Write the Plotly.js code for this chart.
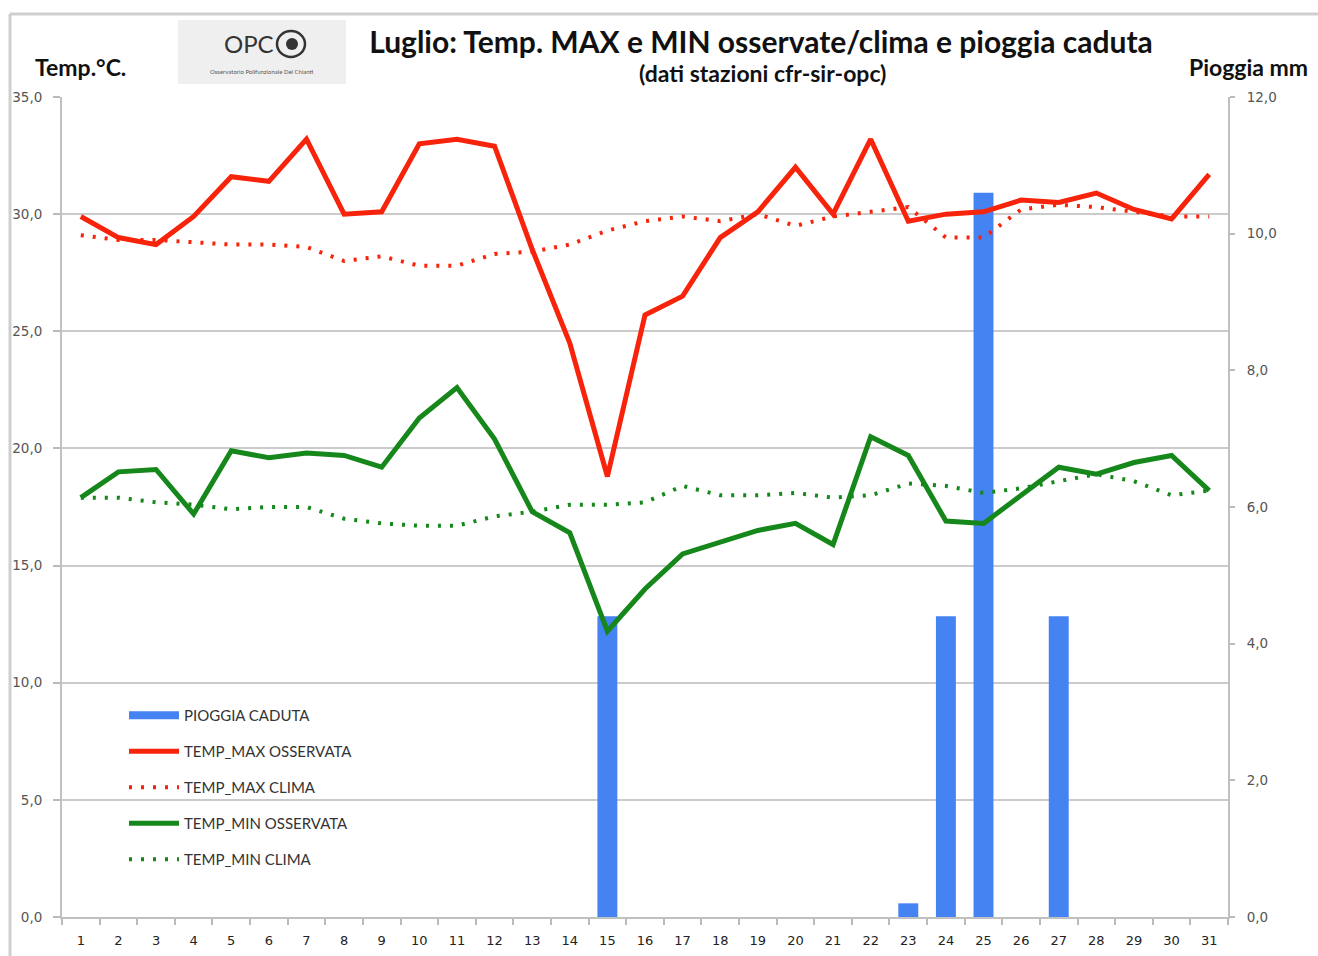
<!DOCTYPE html>
<html>
<head>
<meta charset="utf-8">
<script src="https://cdn.plot.ly/plotly-3.0.1.min.js"></script>
<style>html,body{margin:0;padding:0;background:#fff;}#chart{width:1318px;height:956px;}</style>
</head>
<body>
<div id="chart"></div>
<script>
const days = ['1','2','3','4','5','6','7','8','9','10','11','12','13','14','15','16','17','18','19','20','21','22','23','24','25','26','27','28','29','30','31'];
const rain = [0,0,0,0,0,0,0,0,0,0,0,0,0,0,4.4,0,0,0,0,0,0,0,0.2,4.4,10.6,0,4.4,0,0,0,0];
const tmaxObs = [29.9,29.0,28.7,29.9,31.6,31.4,33.2,30.0,30.1,33.0,33.2,32.9,28.5,24.5,18.8,25.7,26.5,29.0,30.1,32.0,30.0,33.2,29.7,30.0,30.1,30.6,30.5,30.9,30.2,29.8,31.7];
const tmaxClima = [29.1,28.9,28.9,28.8,28.7,28.7,28.6,28.0,28.2,27.8,27.8,28.3,28.4,28.7,29.3,29.7,29.9,29.7,30.0,29.5,29.9,30.1,30.3,29.0,29.0,30.2,30.4,30.3,30.1,29.9,29.9];
const tminObs = [17.9,19.0,19.1,17.2,19.9,19.6,19.8,19.7,19.2,21.3,22.6,20.4,17.3,16.4,12.2,14.0,15.5,16.0,16.5,16.8,15.9,20.5,19.7,16.9,16.8,18.0,19.2,18.9,19.4,19.7,18.2];
const tminClima = [17.9,17.9,17.7,17.6,17.4,17.5,17.5,17.0,16.8,16.7,16.7,17.1,17.3,17.6,17.6,17.7,18.4,18.0,18.0,18.1,17.9,18.0,18.5,18.4,18.1,18.3,18.6,18.9,18.6,18.0,18.2];

const names = ['PIOGGIA CADUTA','TEMP_MAX OSSERVATA','TEMP_MAX CLIMA','TEMP_MIN OSSERVATA','TEMP_MIN CLIMA'];
const RED = '#f7230a', GREEN = '#16871a', BLUE = '#4582f2';

// pixel -> paper helpers (layout only)
const L = 62, R = 1228, T = 97, B = 917;
const px = x => (x - L) / (R - L);
const py = y => (B - y) / (B - T);

const traces = [
  {type:'bar', x:days, y:rain, name:names[0], yaxis:'y', marker:{color:BLUE, line:{width:0}}, width:0.53, showlegend:false},
  // legend-only entry for the rain bars (wide rectangle symbol like the original)
  {type:'scatter', mode:'lines', x:[null], y:[null], name:names[0], yaxis:'y', line:{color:BLUE, width:8}, legendgroup:'a', hoverinfo:'skip'},
  {type:'scatter', mode:'lines', x:days, y:tmaxObs, name:names[1], yaxis:'y2', line:{color:RED, width:5}, legendgroup:'b'},
  {type:'scatter', mode:'lines', x:days, y:tmaxClima, name:names[2], yaxis:'y2', line:{color:RED, width:4, dash:'3px,9px'}, legendgroup:'c'},
  {type:'scatter', mode:'lines', x:days, y:tminObs, name:names[3], yaxis:'y2', line:{color:GREEN, width:5}, legendgroup:'d'},
  {type:'scatter', mode:'lines', x:days, y:tminClima, name:names[4], yaxis:'y2', line:{color:GREEN, width:4, dash:'3px,9px'}, legendgroup:'e'}
];

const axFont = {family:'DejaVu Sans, sans-serif', size:13.5, color:'#555'};
const layout = {
  width:1318, height:956,
  margin:{l:L, r:1318-R, t:T, b:956-B, pad:0},
  paper_bgcolor:'#fff', plot_bgcolor:'#fff',
  separators:',.',
  showlegend:true,
  font:{family:'Lato, sans-serif'},
  title:{text:'Luglio: Temp. MAX e MIN osservate/clima e pioggia caduta', font:{family:'Lato, sans-serif', size:30, color:'#111', weight:700}, x:761/1318, xanchor:'center', xref:'container', y:1-42/956, yanchor:'middle', yref:'container'},
  xaxis:{type:'category', range:[-0.5,30.5], tickson:'boundaries', ticks:'outside', ticklen:6, tickcolor:'#bbb', tickwidth:2, ticklabelstandoff:10,
         showline:true, linecolor:'#c0c0c0', linewidth:2, showgrid:false, tickfont:{family:'DejaVu Sans, sans-serif', size:13, color:'#222'}, fixedrange:true},
  yaxis:{range:[0,12], dtick:2, tick0:0, side:'right', tickformat:'.1f', showgrid:false, zeroline:false, showline:true, linecolor:'#c0c0c0', linewidth:2,
         ticks:'outside', ticklen:5, tickcolor:'#bbb', tickwidth:2, tickfont:axFont, ticklabelstandoff:9},
  yaxis2:{range:[0,35], dtick:5, tick0:0, side:'left', overlaying:'y', tickformat:'.1f', showgrid:true, gridcolor:'#cbcbcb', gridwidth:2, zeroline:false,
         showline:true, linecolor:'#c0c0c0', linewidth:2, ticks:'outside', ticklen:7, tickcolor:'#bbb', tickwidth:2, tickfont:axFont, ticklabelstandoff:8},
  legend:{x:px(124), y:py(699), xanchor:'left', yanchor:'top', bgcolor:'rgba(0,0,0,0)', font:{family:'Lato, sans-serif', size:15, color:'#333'}, tracegroupgap:13.5, traceorder:'grouped', itemwidth:50},
  shapes:[
    {type:'line', xref:'paper', yref:'paper', x0:px(10), x1:px(1318), y0:py(14), y1:py(14), line:{color:'#cfcfcf', width:3}},
    {type:'line', xref:'paper', yref:'paper', x0:px(10), x1:px(10), y0:py(14), y1:py(960), line:{color:'#cfcfcf', width:3}},
    {type:'rect', xref:'paper', yref:'paper', x0:px(178), x1:px(346), y0:py(20), y1:py(84), fillcolor:'#efefef', line:{width:0}},
    {type:'circle', xref:'paper', yref:'paper', x0:px(277), x1:px(305), y0:py(31), y1:py(57), line:{color:'#333', width:2.5}, fillcolor:'rgba(0,0,0,0)'},
    {type:'circle', xref:'paper', yref:'paper', x0:px(286), x1:px(298), y0:py(38), y1:py(50), line:{width:0}, fillcolor:'#333'}
  ],
  annotations:[
    {text:'(dati stazioni cfr-sir-opc)', xref:'paper', yref:'paper', x:px(762), y:py(73), xanchor:'center', yanchor:'middle', showarrow:false, font:{family:'Lato, sans-serif', size:23, color:'#111', weight:700}},
    {text:'Temp.°C.', xref:'paper', yref:'paper', x:px(33), y:py(67), xanchor:'left', yanchor:'middle', showarrow:false, font:{family:'Lato, sans-serif', size:23, color:'#111', weight:700}},
    {text:'Pioggia mm', xref:'paper', yref:'paper', x:px(1310), y:py(67), xanchor:'right', yanchor:'middle', showarrow:false, font:{family:'Lato, sans-serif', size:23, color:'#111', weight:700}},
    {text:'OPC', xref:'paper', yref:'paper', x:px(276), y:py(44), xanchor:'right', yanchor:'middle', showarrow:false, font:{family:'Lato, sans-serif', size:24, color:'#333'}},
    {text:'Osservatorio Polifunzionale Del Chianti', xref:'paper', yref:'paper', x:px(262), y:py(72), xanchor:'center', yanchor:'middle', showarrow:false, font:{family:'Lato, sans-serif', size:6, color:'#555'}}
  ]
};

Plotly.newPlot('chart', traces, layout, {displayModeBar:false, staticPlot:true});
</script>
</body>
</html>
